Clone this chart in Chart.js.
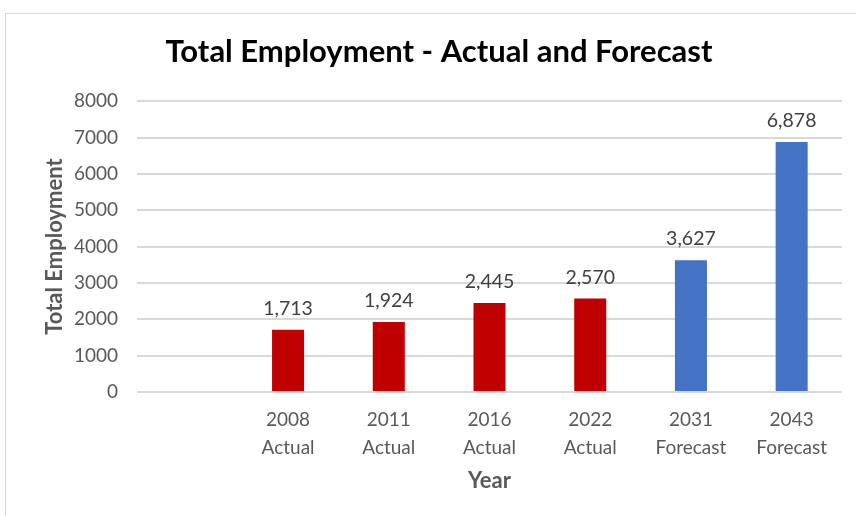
<!DOCTYPE html>
<html>
<head>
<meta charset="utf-8">
<script src="https://cdn.jsdelivr.net/npm/chart.js@4/dist/chart.umd.min.js"></script>
<style>
  html, body { margin:0; padding:0; background:#fff; overflow:hidden; }
  #frame { position:absolute; left:5px; top:13px; width:900px; height:600px;
           border:1.5px solid #d9d9d9; box-sizing:border-box; }
  #wrap { position:absolute; left:0; top:0; width:878px; height:516px; }
</style>
</head>
<body>
<div id="frame"></div>
<div id="wrap"><canvas id="empChart"></canvas></div>
<script>
// Datos (la primera categoría está vacía)
const YEARS  = ["", "2008", "2011", "2016", "2022", "2031", "2043"];
const KINDS  = ["", "Actual", "Actual", "Actual", "Actual", "Forecast", "Forecast"];
const VALUES = [null, 1713, 1924, 2445, 2570, 3627, 6878];
const Y_TICKS = [0, 1000, 2000, 3000, 4000, 5000, 6000, 7000, 8000];

const COLORS = { Actual: "#C00000", Forecast: "#4472C4", "": "#C00000" };
const FONT = "Lato, 'Open Sans', sans-serif";

const labels = YEARS.map((y, i) => [y, KINDS[i]]);

// Etiquetas de valor sobre cada barra
const valueLabels = {
  id: "valueLabels",
  afterDatasetsDraw(chart){
    const {ctx} = chart;
    const meta = chart.getDatasetMeta(0);
    ctx.save();
    ctx.font = "19.5px " + FONT;
    ctx.fillStyle = "#404040";
    ctx.textAlign = "center";
    ctx.textBaseline = "middle";
    meta.data.forEach((bar, i)=>{
      const v = VALUES[i];
      if(v == null) return;
      ctx.fillText(v.toLocaleString("en-US"), bar.x, bar.y - 21);
    });
    ctx.restore();
  }
};

new Chart(document.getElementById("empChart"), {
  type: "bar",
  data: {
    labels,
    datasets: [{
      label: "Total Employment",
      data: VALUES,
      backgroundColor: KINDS.map(k => COLORS[k]),
      categoryPercentage: 1,
      barPercentage: 0.318
    }]
  },
  options: {
    responsive: true,
    maintainAspectRatio: false,
    animation: false,
    layout: { padding: { left: 36, right: 36, top: 0, bottom: 0 } },
    scales: {
      x: {
        grid: { display: false },
        border: { display: false },
        ticks: {
          color: "#595959",
          font: { family: FONT, size: 19, lineHeight: 1.47 },
          padding: 6,
          maxRotation: 0,
          autoSkip: false
        },
        title: {
          display: true,
          text: "Year",
          color: "#595959",
          font: { family: FONT, size: 22, weight: "bold" },
          padding: { top: 0, bottom: 22 }
        },
        afterFit: s => { s.height = 124; }
      },
      y: {
        min: 0,
        max: 8000,
        afterBuildTicks: s => { s.ticks = Y_TICKS.map(v => ({value: v})); },
        grid: { color: "#d9d9d9", lineWidth: 2, drawTicks: false },
        border: { display: false },
        ticks: {
          color: "#595959",
          font: { family: FONT, size: 19 },
          padding: 19,
          callback: v => String(v)
        },
        title: {
          display: true,
          text: "Total Employment",
          color: "#595959",
          font: { family: FONT, size: 22, weight: "bold" },
          padding: { top: 6, bottom: 0 }
        },
        afterFit: s => { s.width = 101; }
      }
    },
    plugins: {
      legend: { display: false },
      tooltip: { enabled: false },
      title: {
        display: true,
        text: "Total Employment - Actual and Forecast",
        color: "#000",
        font: { family: FONT, size: 31, weight: "bold" },
        padding: { top: 33, bottom: 31 }
      }
    }
  },
  plugins: [valueLabels]
});
</script>
</body>
</html>
